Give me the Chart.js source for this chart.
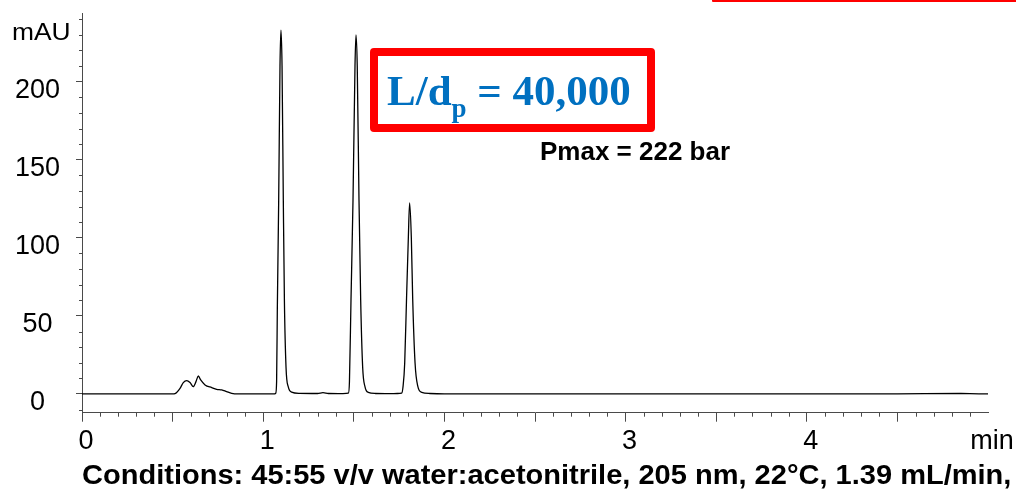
<!DOCTYPE html>
<html>
<head>
<meta charset="utf-8">
<script src="https://cdn.jsdelivr.net/npm/chart.js@4.4.0/dist/chart.umd.min.js"></script>
<style>
html,body{margin:0;padding:0;background:#fff;}
#wrap{position:relative;width:1016px;height:495px;overflow:hidden;background:#fff;}
#c{position:absolute;left:0;top:0;}
.ann{position:absolute;white-space:nowrap;line-height:1;}
#box{position:absolute;left:370px;top:48px;width:285px;height:84px;box-sizing:border-box;border:8px solid #ff0000;border-radius:4px;}
#ld{left:387px;top:69px;font-family:"Liberation Serif","Times New Roman",serif;font-weight:bold;font-size:43px;color:#0070c0;}
#ld sub{font-size:27px;vertical-align:-12px;line-height:1;}
#pmax{left:540px;top:138px;font-family:"Liberation Sans",Arial,sans-serif;font-weight:bold;font-size:26px;color:#000;}
#cond{left:82px;top:462px;font-family:"Liberation Sans",Arial,sans-serif;font-weight:bold;font-size:27px;color:#000;transform-origin:0 0;transform:scaleX(1.075);}
#mau{left:12px;top:20px;font-family:"Liberation Sans",Arial,sans-serif;font-size:24px;color:#000;transform-origin:0 0;transform:scaleX(1.1);}
#topline{position:absolute;left:712px;top:0;width:304px;height:1.6px;background:#ff0000;border-bottom-left-radius:1px;}
</style>
</head>
<body>
<div id="wrap">
  <canvas id="c" width="1016" height="495"></canvas>
  <div id="topline"></div>
  <div id="mau" class="ann">mAU</div>
  <div id="box"></div>
  <div id="ld" class="ann">L/d<sub>p</sub> = 40,000</div>
  <div id="pmax" class="ann">Pmax = 222 bar</div>
  <div id="cond" class="ann">Conditions: 45:55 v/v water:acetonitrile, 205 nm, 22°C, 1.39 mL/min,</div>
</div>
<script>
// ---- data (time in min, signal in mAU) ----
const voidTime    = [0.00, 0.30, 0.50, 0.513, 0.541, 0.559, 0.578, 0.596, 0.614, 0.629, 0.642, 0.655, 0.679, 0.716, 0.743, 0.771, 0.798, 0.826, 0.86, 1.00, 1.060];
const voidSignal  = [0.0, 0.0, 0.0, 0.2, 3.6, 7.3, 8.5, 7.3, 4.7, 7.9, 11.5, 9.0, 5.8, 4.1, 3.0, 2.6, 1.5, 0.4, 0.0, 0.0, 0.0];
const peak1Time   = [1.069, 1.074, 1.078, 1.0855, 1.0927, 1.098, 1.104, 1.111, 1.117, 1.126, 1.1385, 1.157, 1.20, 1.30, 1.33, 1.36, 1.44];
const peak1Signal = [0.5, 8, 55, 124, 210, 233, 210, 124, 60, 17, 4.5, 1.2, 0.4, 0.3, 0.8, 0.3, 0.2];
const peak2Time   = [1.470, 1.476, 1.4845, 1.4956, 1.5066, 1.512, 1.519, 1.5287, 1.538, 1.549, 1.562, 1.580, 1.62, 1.70, 1.74];
const peak2Signal = [0.5, 8, 60, 124, 210, 230, 210, 124, 60, 17, 4.5, 1.0, 0.3, 0.2, 0.3];
const peak3Time   = [1.764, 1.772, 1.781, 1.791, 1.801, 1.808, 1.8175, 1.825, 1.838, 1.853, 1.875, 1.92, 2.00, 3.00, 4.00, 4.50, 4.85, 4.95, 5.00];
const peak3Signal = [0.5, 5, 20, 61, 100, 122.4, 100, 61, 20, 5, 1.0, 0.3, 0.1, 0.0, 0.0, 0.1, 0.3, 0.1, 0.1];

const xTickValues = [0, 0.5, 1, 1.5, 2, 2.5, 3, 3.5, 4, 4.5, 5];
const xTickLabels = ['0', '', '1', '', '2', '', '3', '', '4', '', 'min'];
const yTickValues = [0, 50, 100, 150, 200];
const yTickLabels = ['0', '50', '100', '150', '200'];

const times = [].concat(voidTime, peak1Time, peak2Time, peak3Time);
const signals = [].concat(voidSignal, peak1Signal, peak2Signal, peak3Signal);
const points = times.map((t, i) => ({x: t, y: signals[i]}));

const AXIS = '#4a4a4a';
const FONT = {family: '"Liberation Sans", Arial, sans-serif', size: 27};

const minorTicks = {
  id: 'minorTicks',
  afterDraw(chart) {
    const {ctx, scales: {x, y}} = chart;
    ctx.save();
    ctx.strokeStyle = AXIS;
    ctx.lineWidth = 1;
    ctx.beginPath();
    for (let i = 1; i < 50; i++) {
      if (i % 5 === 0) continue;
      const px = Math.round(x.getPixelForValue(i / 10)) + 0.5;
      ctx.moveTo(px, x.top);
      ctx.lineTo(px, x.top + 4);
    }
    for (let v = -10; v <= 240; v += 10) {
      if (v % 50 === 0) continue;
      const py = Math.round(y.getPixelForValue(v)) + 0.5;
      ctx.moveTo(y.right, py);
      ctx.lineTo(y.right - 3, py);
    }
    ctx.stroke();
    ctx.restore();
  }
};

new Chart(document.getElementById('c'), {
  type: 'line',
  data: {
    datasets: [{
      data: points,
      borderColor: '#000',
      borderWidth: 1.3,
      pointRadius: 0,
      fill: false,
      cubicInterpolationMode: 'monotone'
    }]
  },
  options: {
    responsive: false,
    animation: false,
    devicePixelRatio: 1,
    layout: {padding: {top: 13, right: 28, left: 0, bottom: 0}},
    plugins: {legend: {display: false}, tooltip: {enabled: false}, title: {display: false}},
    scales: {
      x: {
        type: 'linear',
        min: 0, max: 5,
        afterFit(s) { s.height = 82.3; s.paddingLeft = 0; s.paddingRight = 0; },
        afterBuildTicks(s) { s.ticks = xTickValues.map(v => ({value: v})); },
        border: {display: true, color: AXIS, width: 1},
        grid: {
          display: true, drawOnChartArea: false, drawTicks: true, tickLength: 9,
          tickColor: c => (c.tick && c.tick.value === 5) ? 'rgba(0,0,0,0)' : AXIS,
          tickWidth: 1
        },
        ticks: {
          autoSkip: false, maxRotation: 0, minRotation: 0,
          padding: 4, labelOffset: 4, color: '#000', font: FONT,
          callback: (v, i) => xTickLabels[xTickValues.indexOf(v)] ?? ''
        }
      },
      y: {
        type: 'linear',
        min: -12, max: 244,
        afterFit(s) { s.width = 82; s.paddingTop = 0; s.paddingBottom = 0; },
        afterBuildTicks(s) { s.ticks = yTickValues.map(v => ({value: v})); },
        border: {display: true, color: AXIS, width: 1},
        grid: {display: true, drawOnChartArea: false, drawTicks: true, tickLength: 6, tickColor: AXIS, tickWidth: 1},
        ticks: {
          autoSkip: false, crossAlign: 'center', padding: 16, labelOffset: 9, color: '#000', font: FONT,
          callback: v => yTickLabels[yTickValues.indexOf(v)] ?? ''
        }
      }
    }
  },
  plugins: [minorTicks]
});
</script>
</body>
</html>
